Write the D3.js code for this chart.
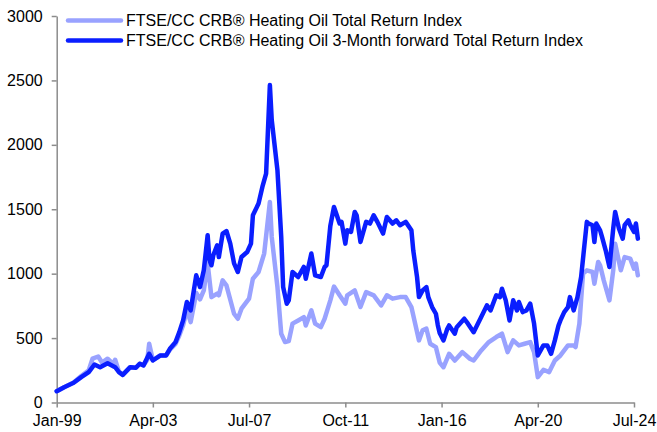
<!DOCTYPE html>
<html>
<head>
<meta charset="utf-8">
<script src="https://cdn.jsdelivr.net/npm/d3@7"></script>
<style>
  html, body { margin: 0; padding: 0; background: #fff; }
  svg { display: block; }
  text { font-family: "Liberation Sans", Arial, sans-serif; fill: #000; }
</style>
</head>
<body>
<svg id="chart" width="657" height="432"></svg>
<script>
const seriesNames = [
  "FTSE/CC CRB\u00AE Heating Oil Total Return Index",
  "FTSE/CC CRB\u00AE Heating Oil 3-Month forward Total Return Index"
];

const xTickLabels = ["1999-01", "2003-04", "2007-07", "2011-10", "2016-01", "2020-04", "2024-07"];
const yTickValues = [0, 500, 1000, 1500, 2000, 2500, 3000];

// FTSE/CC CRB Heating Oil Total Return Index
const spotDates = ["1999-01","1999-05","1999-10","2000-02","2000-06","2000-08","2000-11","2001-01","2001-04","2001-07","2001-08","2001-10","2001-12",
  "2002-04","2002-07","2002-09","2002-11","2003-01","2003-02","2003-04","2003-08","2003-11","2004-01","2004-04","2004-06","2004-08","2004-10","2004-12",
  "2005-03","2005-05","2005-07","2005-09","2005-11","2006-02","2006-03","2006-05","2006-07","2006-11","2007-01","2007-03","2007-07","2007-09","2007-12",
  "2008-03","2008-06","2008-07","2008-10","2008-12","2009-02","2009-04","2009-06","2009-09","2009-12","2010-01","2010-04","2010-06","2010-09","2010-11",
  "2011-02","2011-04","2011-07","2011-10","2011-11","2012-03","2012-06","2012-09","2013-01","2013-05","2013-08","2013-11","2014-03","2014-06","2014-09",
  "2014-11","2015-01","2015-03","2015-05","2015-07","2015-10","2015-12","2016-02","2016-05","2016-08","2016-12","2017-04","2017-06","2017-10","2018-02",
  "2018-06","2018-09","2018-12","2019-03","2019-06","2019-09","2019-12","2020-02","2020-04","2020-07","2020-10","2021-01","2021-04","2021-08","2021-11",
  "2021-12","2022-02","2022-04","2022-06","2022-09","2022-10","2022-12","2023-01","2023-03","2023-06","2023-08","2023-09","2023-12","2024-02","2024-05",
  "2024-07","2024-08","2024-09"];
const spotValues = [88,119,155,205,250,340,357,310,340,300,332,240,215,
  274,270,301,290,330,456,330,365,365,410,455,520,600,720,624,
  850,800,870,1078,818,845,832,948,909,689,650,728,806,961,1013,
  1156,1557,1285,896,534,469,476,612,637,663,598,715,612,585,650,
  793,900,832,767,832,870,741,857,832,754,832,806,818,818,741,
  612,482,560,573,456,430,310,274,378,326,391,340,326,404,469,
  508,534,391,482,443,456,469,391,197,254,236,326,365,443,443,
  430,612,1000,1026,1013,922,1091,1065,948,793,1026,1233,1026,1129,1117,
  1039,1078,987];

// FTSE/CC CRB Heating Oil 3-Month forward Total Return Index
const fwdDates = ["1999-01","1999-05","1999-10","2000-02","2000-06","2000-09","2000-12","2001-04","2001-08","2001-10","2001-12",
  "2002-04","2002-07","2002-09","2002-11","2003-02","2003-04","2003-08","2003-11","2004-01","2004-04","2004-06","2004-08","2004-10","2004-12",
  "2005-03","2005-05","2005-07","2005-09","2005-10","2005-11","2005-12","2006-02","2006-03","2006-05","2006-07","2006-09","2006-11","2007-01","2007-03",
  "2007-06","2007-08","2007-09","2007-12","2008-02","2008-04","2008-06","2008-07","2008-10","2008-12","2009-01","2009-03","2009-04","2009-06","2009-09",
  "2009-12","2010-01","2010-04","2010-06","2010-09","2010-11","2010-12","2011-02","2011-04","2011-07","2011-08","2011-10","2011-11","2012-01","2012-03",
  "2012-04","2012-06","2012-09","2012-11","2013-01","2013-03","2013-06","2013-08","2013-11","2014-01","2014-03","2014-06","2014-09","2014-10","2014-12",
  "2015-01","2015-03","2015-05","2015-06","2015-08","2015-10","2015-11","2015-12","2016-02","2016-04","2016-05","2016-08","2016-09","2017-01","2017-03",
  "2017-06","2017-10","2018-01","2018-03","2018-06","2018-08","2018-09","2018-11","2019-01","2019-03","2019-05","2019-06","2019-08","2019-10","2019-12",
  "2020-02","2020-04","2020-07","2020-09","2020-11","2021-01","2021-03","2021-04","2021-06","2021-08","2021-09","2021-11","2022-01","2022-03","2022-06",
  "2022-07","2022-09","2022-10","2022-11","2023-01","2023-02","2023-04","2023-06","2023-08","2023-09","2023-11","2024-01","2024-02","2024-04","2024-05",
  "2024-07","2024-08","2024-09"];
const fwdValues = [88,119,153,197,236,295,274,305,274,236,215,
  274,270,301,288,378,326,365,365,417,469,546,637,780,715,
  987,896,1026,1298,1104,1065,1143,1220,1129,1311,1331,1233,1080,1013,1129,
  1168,1233,1453,1544,1673,1777,2464,2192,1803,1285,896,767,793,1013,974,
  1052,961,1156,987,974,1052,1065,1370,1518,1389,1402,1233,1337,1324,1479,
  1453,1246,1402,1389,1453,1402,1311,1440,1389,1414,1376,1402,1337,1181,974,
  818,870,896,818,741,689,600,540,482,570,598,534,585,650,612,
  546,663,754,715,832,818,883,793,637,793,715,780,702,715,767,
  612,365,443,443,378,482,598,637,702,741,818,715,818,974,1402,
  1389,1376,1246,1389,1337,1285,1181,1052,1350,1479,1350,1272,1376,1414,1376,
  1324,1389,1272];

const colors = ["#99A2FF", "#0A1EFF"];

const parse = d3.timeParse("%Y-%m");
const fmt = d3.timeFormat("%b-%y");
const svg = d3.select("#chart");

const x = d3.scaleTime()
  .domain([parse(xTickLabels[0]), parse(xTickLabels[xTickLabels.length - 1])])
  .range([56.7, 634]);
const y = d3.scaleLinear().domain([0, 3000]).range([402.5, 16]);

const series = [
  spotDates.map((d, i) => ({ date: parse(d), value: spotValues[i] })),
  fwdDates.map((d, i) => ({ date: parse(d), value: fwdValues[i] }))
];

// Axes
const xAxis = d3.axisBottom(x)
  .tickValues(xTickLabels.map(parse))
  .tickFormat(fmt)
  .tickSize(5)
  .tickSizeOuter(0)
  .tickPadding(7);
const gx = svg.append("g").attr("transform", "translate(0,402.5)").call(xAxis);

const yAxis = d3.axisLeft(y)
  .tickValues(yTickValues)
  .tickFormat(d3.format("d"))
  .tickSize(5)
  .tickSizeOuter(0)
  .tickPadding(9);
const gy = svg.append("g").attr("transform", "translate(56.7,0)").call(yAxis);

[gx, gy].forEach(g => {
  g.selectAll("path.domain").attr("stroke", "#8C8C8C").attr("stroke-width", 1.5);
  g.selectAll(".tick line").attr("stroke", "#8C8C8C").attr("stroke-width", 1.5);
  g.selectAll(".tick text")
    .attr("font-family", "'Liberation Sans', Arial, sans-serif")
    .attr("font-size", 16)
    .attr("fill", "#000");
});

// Lines
const line = d3.line().x(d => x(d.date)).y(d => y(d.value));
series.forEach((s, i) => {
  svg.append("path")
    .datum(s)
    .attr("fill", "none")
    .attr("stroke", colors[i])
    .attr("stroke-width", 4.5)
    .attr("stroke-linejoin", "round")
    .attr("stroke-linecap", "round")
    .attr("d", line);
});

// Legend
const legend = svg.append("g");
seriesNames.forEach((name, i) => {
  const yy = 20.5 + i * 20;
  legend.append("line")
    .attr("x1", 68).attr("x2", 121)
    .attr("y1", yy).attr("y2", yy)
    .attr("stroke", colors[i]).attr("stroke-width", 4.5)
    .attr("stroke-linecap", "round");
  legend.append("text")
    .attr("x", 126).attr("y", yy)
    .attr("dy", "0.35em")
    .attr("font-size", 16)
    .text(name);
});
</script>
</body>
</html>
